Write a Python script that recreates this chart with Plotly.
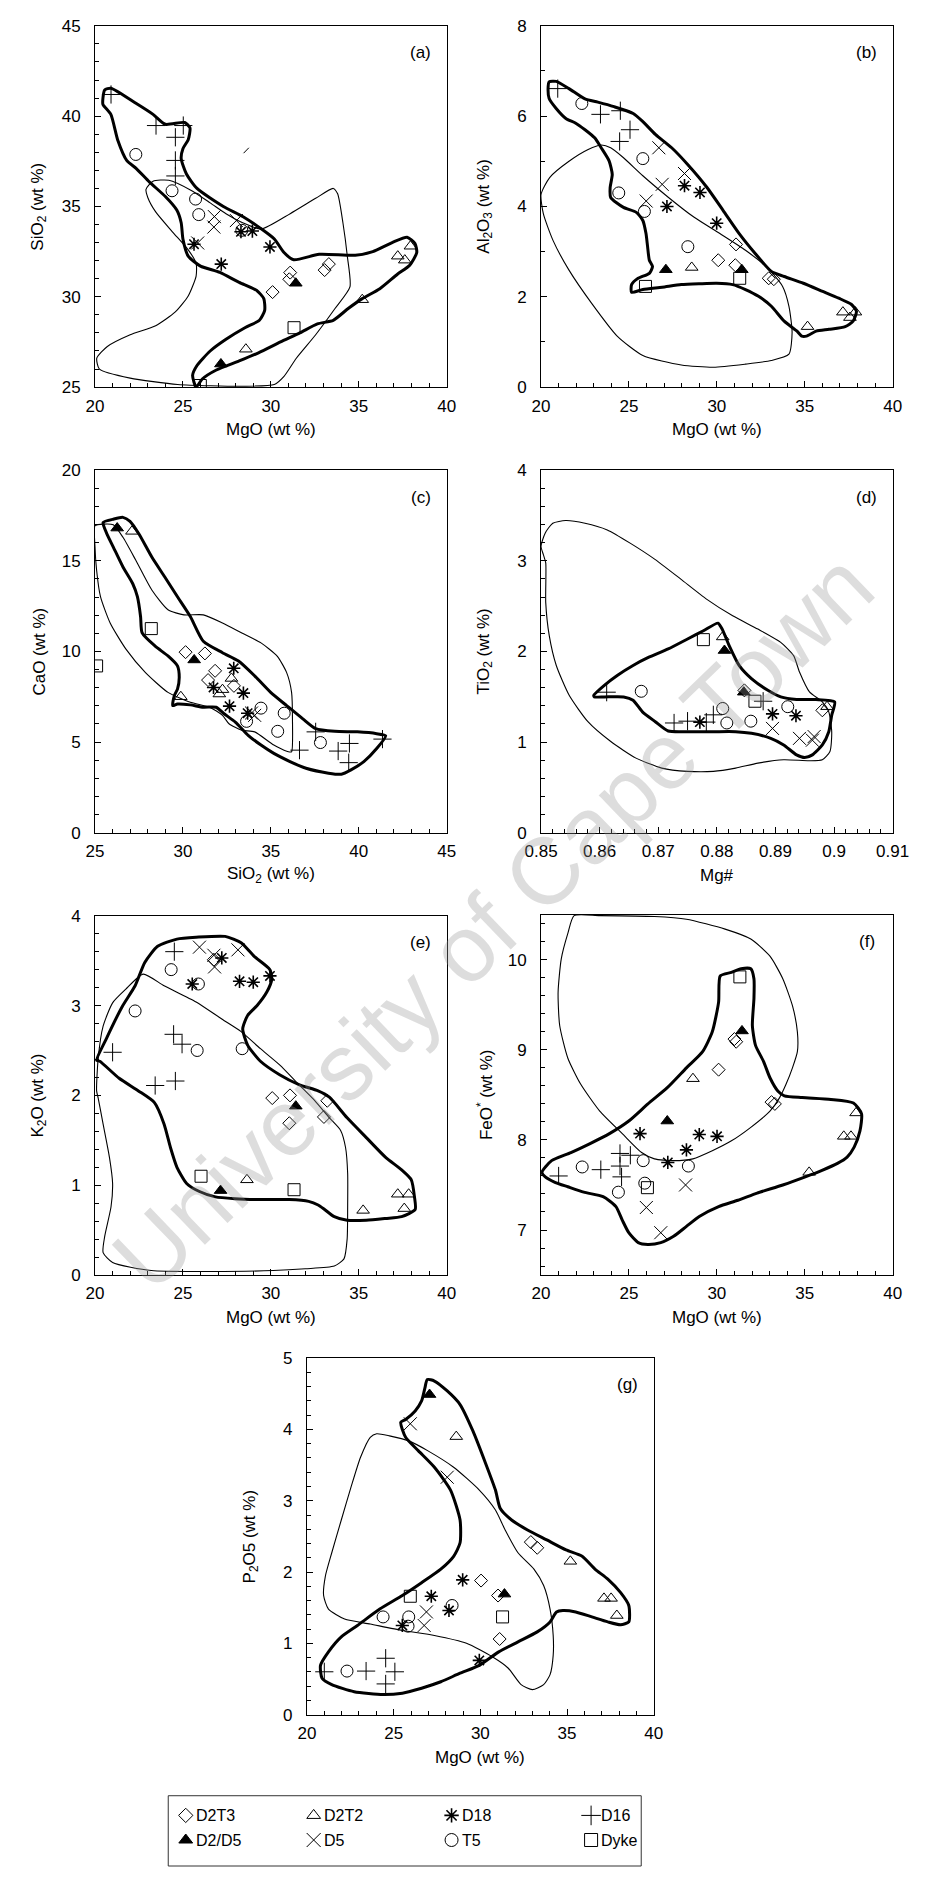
import plotly.graph_objects as go

W, H = 927, 1877
FONT = "Liberation Sans, Arial, Helvetica, sans-serif"

# ---------------- (a) SiO2 vs MgO ----------------
a_d2t3 = [(31.1, 31.34), (31.05, 30.97), (30.1, 30.26), (33.06, 31.48), (33.3, 31.81)]
a_d2t2 = [(28.58, 27.1), (35.2, 29.84), (37.22, 32.25), (37.62, 32.03), (37.94, 32.8)]
a_d18 = [(25.63, 32.91), (27.18, 31.81), (28.95, 33.64), (29.95, 32.76), (28.3, 33.6)]
a_d16 = [(20.91, 41.2), (23.47, 39.48), (25.02, 39.48), (24.57, 38.83), (24.57, 37.55), (24.57, 36.69)]
a_d2d5 = [(31.42, 30.75), (27.16, 26.28)]
a_d5 = [(26.79, 34.44), (26.76, 33.86), (25.84, 32.98), (28.04, 34.22)]
a_t5 = [(22.32, 37.88), (24.38, 35.87), (25.72, 35.41), (25.9, 34.55), (28.35, 33.68)]
a_dyke = [(31.32, 28.29), (25.99, 25.09)]
a_thick = [(20.45, 41.0), (20.55, 41.45), (20.9, 41.55), (22.35, 40.7), (23.3, 40.1), (24.0, 39.55),
           (25.1, 39.65), (25.4, 39.35), (25.3, 38.7), (25.0, 38.2), (24.9, 37.65), (25.2, 36.8),
           (25.8, 36.0), (27.3, 35.0), (28.4, 34.45), (29.4, 33.8), (30.2, 33.2), (30.75, 32.45),
           (31.3, 32.05), (32.75, 32.35), (34.8, 32.3), (35.8, 32.5), (36.9, 33.0), (37.75, 33.3),
           (38.2, 32.95), (38.3, 32.45), (37.9, 31.75), (37.2, 31.25), (36.2, 30.45), (35.2, 29.9),
           (34.4, 29.35), (33.55, 28.7), (32.65, 28.5), (31.65, 28.0), (30.55, 27.5), (29.3, 26.9),
           (28.2, 26.45), (26.9, 25.95), (26.1, 25.45), (25.75, 25.0), (25.55, 25.65), (25.8, 26.2),
           (26.55, 27.0), (27.45, 27.65), (28.55, 28.3), (29.35, 28.7), (29.65, 29.25), (29.6, 29.9),
           (29.2, 30.35), (28.2, 30.8), (27.1, 31.35), (26.0, 31.7), (25.3, 32.25), (25.0, 33.2),
           (24.9, 34.1), (24.65, 34.8), (24.0, 35.55), (23.1, 36.35), (22.35, 37.1), (21.8, 37.55),
           (21.3, 38.65), (20.9, 40.1), (20.45, 40.65)]
a_thin = [(23.3, 36.4), (24.2, 36.45), (25.45, 35.9), (26.55, 35.2), (27.45, 34.6), (28.4, 34.1),
          (29.45, 33.75), (31.1, 34.6), (32.55, 35.45), (33.55, 36.0), (33.8, 35.7), (34.1, 34.1),
          (34.35, 32.25), (34.5, 30.55), (33.65, 29.35), (32.55, 27.9), (31.45, 26.6), (30.75, 25.6),
          (30.2, 25.15), (28.4, 25.05), (24.7, 25.15), (22.0, 25.5), (20.25, 26.0), (20.1, 26.6),
          (20.7, 27.25), (22.0, 27.9), (23.45, 28.4), (24.55, 29.15), (25.3, 30.05), (25.75, 31.15),
          (25.75, 31.85), (25.3, 32.6), (24.4, 33.6), (23.45, 34.7), (23.0, 35.5), (22.9, 35.95)]
a_stroke = [(28.45, 37.95), (28.75, 38.25)]

# ---------------- (b) Al2O3 vs MgO ----------------
b_d2t3 = [(31.09, 3.16), (30.08, 2.81), (31.05, 2.70), (32.95, 2.41), (33.24, 2.39)]
b_d2t2 = [(28.57, 2.65), (35.16, 1.34), (37.17, 1.66), (37.57, 1.54), (37.88, 1.66)]
b_d18 = [(28.16, 4.46), (29.04, 4.31), (27.16, 4.0), (29.99, 3.63)]
b_d16 = [(20.95, 6.61), (23.38, 6.04), (24.51, 6.12), (24.47, 5.44), (25.06, 5.70)]
b_d2d5 = [(27.1, 2.6), (31.42, 2.6)]
b_d5 = [(26.7, 5.3), (26.89, 4.49), (25.98, 4.12), (28.16, 4.73)]
b_t5 = [(22.32, 6.28), (25.79, 5.06), (24.42, 4.30), (25.88, 3.89), (28.35, 3.11)]
b_dyke = [(25.94, 2.23), (31.3, 2.41)]
b_thick = [(20.46, 6.76), (20.86, 6.77), (21.59, 6.61), (22.5, 6.38), (23.23, 6.31), (24.15, 6.21),
           (25.24, 6.06), (25.79, 5.88), (26.52, 5.59), (27.43, 5.30), (28.34, 4.93), (29.44, 4.42),
           (30.36, 3.91), (31.27, 3.40), (32.18, 2.96), (33.1, 2.56), (33.83, 2.45), (34.92, 2.30),
           (36.02, 2.12), (36.93, 1.97), (37.66, 1.83), (37.94, 1.68), (37.75, 1.46), (37.3, 1.34),
           (36.38, 1.28), (35.65, 1.24), (35.1, 1.13), (34.83, 1.13), (34.56, 1.24), (33.83, 1.46),
           (33.1, 1.79), (32.37, 2.01), (31.63, 2.16), (30.9, 2.27), (29.99, 2.30), (29.08, 2.29),
           (27.98, 2.27), (26.89, 2.21), (25.79, 2.16), (25.15, 2.10), (25.15, 2.27), (25.52, 2.41),
           (26.16, 2.52), (26.34, 2.67), (26.16, 2.81), (26.06, 3.11), (25.97, 3.40), (25.79, 3.69),
           (25.42, 3.87), (24.69, 3.98), (23.96, 4.20), (23.93, 4.42), (24.05, 4.71), (23.87, 5.01),
           (23.42, 5.30), (23.05, 5.52), (22.5, 5.70), (21.95, 5.85), (21.41, 5.95), (20.86, 6.17),
           (20.46, 6.39), (20.4, 6.61)]
b_thin = [(20.0, 4.27), (20.49, 4.64), (21.59, 5.0), (22.68, 5.26), (23.42, 5.36), (23.96, 5.3),
          (24.69, 5.08), (25.79, 4.68), (27.25, 4.20), (28.71, 3.76), (30.17, 3.40), (31.63, 3.03),
          (32.91, 2.63), (33.74, 2.23), (34.1, 1.79), (34.28, 1.21), (34.1, 0.73), (33.1, 0.59),
          (31.63, 0.51), (29.81, 0.44), (27.98, 0.49), (25.79, 0.70), (24.33, 1.13), (22.87, 1.86),
          (21.59, 2.59), (20.68, 3.25), (20.13, 3.84)]

# ---------------- (c) CaO vs SiO2 ----------------
c_d2t3 = [(30.15, 9.96), (31.25, 9.89), (31.83, 8.93), (31.43, 8.42), (32.9, 8.1)]
c_d2t2 = [(27.1, 16.63), (29.88, 7.5), (32.76, 8.51), (32.25, 7.89), (32.07, 7.65)]
c_d18 = [(32.89, 9.07), (31.74, 8.01), (33.44, 7.70), (32.65, 6.98), (33.68, 6.59)]
c_d16 = [(36.63, 4.55), (37.55, 5.56), (38.83, 4.50), (39.47, 4.92), (39.43, 3.86), (41.35, 5.16)]
c_d2d5 = [(26.26, 16.81), (30.64, 9.53)]
c_d5 = [(34.08, 6.47), (33.9, 6.6)]
c_t5 = [(33.62, 6.14), (34.44, 6.87), (35.76, 6.59), (35.39, 5.59), (37.82, 4.97)]
c_dyke = [(28.2, 11.26), (25.09, 9.2)]
c_thick = [(25.46, 17.12), (26.04, 17.3), (26.59, 17.4), (26.99, 17.18), (27.5, 16.48), (28.23, 15.21),
           (28.96, 14.12), (29.69, 13.02), (30.42, 11.93), (31.16, 10.56), (32.25, 9.93), (33.16, 9.47),
           (34.08, 8.65), (34.99, 7.74), (35.9, 7.01), (36.82, 6.28), (37.55, 5.74), (38.64, 5.59),
           (39.92, 5.56), (41.02, 5.46), (41.53, 5.34), (41.02, 4.64), (40.29, 3.92), (39.56, 3.46),
           (39.01, 3.22), (38.28, 3.28), (37.0, 3.55), (36.09, 3.92), (35.17, 4.37), (34.44, 4.83),
           (33.71, 5.37), (32.98, 6.10), (32.34, 6.56), (31.89, 6.92), (31.16, 6.92), (30.42, 7.05),
           (29.69, 7.10), (29.42, 7.01), (29.51, 7.56), (29.69, 7.92), (29.79, 8.56), (29.69, 9.20),
           (29.15, 9.75), (28.42, 10.29), (27.68, 11.02), (27.59, 11.93), (27.41, 13.02), (27.14, 13.75),
           (26.59, 14.66), (26.04, 15.76), (25.68, 16.48), (25.49, 16.94)]
c_thin = [(25.0, 16.94), (25.49, 17.03), (26.04, 16.99), (26.59, 16.3), (27.32, 15.03), (28.23, 13.39),
          (29.15, 12.3), (30.06, 12.02), (31.16, 12.02), (32.25, 11.57), (33.35, 11.02), (34.44, 10.47),
          (35.36, 9.74), (35.9, 8.83), (36.18, 7.74), (36.23, 6.28), (36.18, 4.46), (36.0, 4.46),
          (35.17, 4.83), (34.08, 5.56), (33.35, 5.65), (32.62, 6.01), (32.25, 6.47), (31.52, 6.92),
          (30.42, 7.19), (29.15, 7.74), (27.87, 8.83), (26.77, 10.11), (25.86, 11.57), (25.31, 13.02),
          (25.09, 14.48), (25.0, 15.76)]

# ---------------- (d) TiO2 vs Mg# ----------------
d_d2t3 = [(0.8980, 1.35), (0.8847, 1.57)]
d_d2t2 = [(0.8810, 2.16), (0.8988, 1.39)]
d_d18 = [(0.8771, 1.22), (0.8895, 1.31), (0.8935, 1.29)]
d_d16 = [(0.8612, 1.55), (0.8727, 1.21), (0.8750, 1.23), (0.8782, 1.22), (0.8794, 1.30), (0.8879, 1.45)]
d_d2d5 = [(0.8813, 2.01), (0.8846, 1.55)]
d_d5 = [(0.8895, 1.15), (0.8941, 1.04), (0.8963, 1.02), (0.8966, 1.06)]
d_t5 = [(0.8671, 1.56), (0.8810, 1.37), (0.8817, 1.21), (0.8858, 1.23), (0.8921, 1.39)]
d_dyke = [(0.8777, 2.13), (0.8865, 1.45)]
d_thick = [(0.8590, 1.516), (0.8608, 1.626), (0.8630, 1.735), (0.8657, 1.845), (0.8684, 1.936),
           (0.8717, 2.027), (0.8750, 2.137), (0.8777, 2.228), (0.8802, 2.312), (0.8809, 2.247),
           (0.8821, 2.064), (0.8838, 1.845), (0.8859, 1.699), (0.8887, 1.571), (0.8909, 1.498),
           (0.8936, 1.469), (0.8969, 1.469), (0.9001, 1.443), (0.8996, 1.297), (0.8991, 1.114),
           (0.8980, 0.968), (0.8963, 0.858), (0.8950, 0.829), (0.8936, 0.858), (0.8914, 0.968),
           (0.8892, 1.041), (0.8859, 1.096), (0.8832, 1.114), (0.8794, 1.114), (0.8750, 1.114),
           (0.8717, 1.121), (0.8695, 1.224), (0.8673, 1.333), (0.8657, 1.461), (0.8641, 1.498),
           (0.8608, 1.498), (0.8591, 1.498)]
d_thin = [(0.8500, 3.160), (0.8507, 3.306), (0.8520, 3.416), (0.8542, 3.445), (0.8575, 3.416),
          (0.8613, 3.342), (0.8652, 3.196), (0.8695, 3.014), (0.8739, 2.795), (0.8783, 2.575),
          (0.8827, 2.393), (0.8870, 2.247), (0.8909, 2.100), (0.8931, 1.954), (0.8941, 1.772),
          (0.8958, 1.553), (0.8980, 1.443), (0.8991, 1.333), (0.8996, 1.114), (0.8993, 0.895),
          (0.8980, 0.804), (0.8958, 0.793), (0.8914, 0.804), (0.8870, 0.767), (0.8832, 0.712),
          (0.8794, 0.676), (0.8750, 0.676), (0.8706, 0.712), (0.8662, 0.822), (0.8619, 1.005),
          (0.8580, 1.224), (0.8548, 1.516), (0.8526, 1.845), (0.8514, 2.174), (0.8508, 2.539),
          (0.8508, 2.977), (0.8504, 3.068)]

# ---------------- (e) K2O vs MgO ----------------
e_d2t3 = [(26.76, 3.51), (30.08, 1.97), (31.09, 2.0), (31.05, 1.69), (33.02, 1.76), (33.21, 1.94)]
e_d2t2 = [(28.64, 1.06), (35.25, 0.72), (37.22, 0.90), (37.84, 0.90), (37.59, 0.74)]
e_d18 = [(27.21, 3.53), (28.22, 3.27), (29.0, 3.26), (29.95, 3.33), (25.53, 3.24)]
e_d16 = [(24.51, 3.60), (24.47, 2.68), (24.95, 2.57), (21.0, 2.48), (23.42, 2.11), (24.57, 2.16)]
e_d2d5 = [(31.42, 1.88), (27.14, 0.94)]
e_d5 = [(25.94, 3.65), (26.76, 3.56), (26.8, 3.43), (28.13, 3.62)]
e_t5 = [(24.33, 3.40), (25.88, 3.24), (22.28, 2.94), (25.81, 2.50), (28.37, 2.52)]
e_dyke = [(26.03, 1.10), (31.32, 0.95)]
e_thick = [(20.09, 2.39), (20.64, 2.63), (21.55, 2.99), (22.28, 3.22), (22.83, 3.48), (23.56, 3.66),
           (24.66, 3.74), (25.75, 3.76), (27.4, 3.77), (28.31, 3.70), (29.04, 3.55), (29.95, 3.40),
           (30.05, 3.29), (29.77, 3.15), (29.22, 3.0), (28.68, 2.89), (28.4, 2.74), (28.68, 2.56),
           (29.41, 2.38), (30.5, 2.23), (31.6, 2.12), (32.69, 2.05), (33.33, 1.98), (34.34, 1.75),
           (35.43, 1.53), (36.53, 1.31), (37.44, 1.17), (37.99, 1.06), (38.17, 0.87), (38.21, 0.73),
           (37.44, 0.65), (36.53, 0.63), (35.43, 0.61), (34.34, 0.61), (33.61, 0.65), (33.06, 0.73),
           (32.69, 0.78), (32.15, 0.82), (31.05, 0.84), (29.41, 0.84), (27.95, 0.85), (26.85, 0.87),
           (25.94, 0.93), (25.21, 1.02), (24.66, 1.20), (24.29, 1.42), (23.93, 1.68), (23.38, 1.92),
           (22.47, 2.05), (21.37, 2.19), (20.27, 2.38)]
e_thin = [(20.09, 2.05), (20.18, 2.41), (20.46, 2.77), (21.0, 3.03), (21.74, 3.18), (22.74, 3.35),
          (23.93, 3.22), (25.75, 3.04), (27.21, 2.85), (28.31, 2.71), (29.41, 2.52), (30.5, 2.34),
          (31.6, 2.12), (32.51, 1.94), (33.33, 1.75), (33.97, 1.61), (34.25, 1.42), (34.37, 1.13),
          (34.37, 0.76), (34.34, 0.40), (34.16, 0.18), (33.61, 0.10), (31.96, 0.07), (30.14, 0.05),
          (26.48, 0.04), (23.2, 0.05), (21.0, 0.14), (20.46, 0.25), (20.55, 0.43), (20.91, 0.76),
          (21.0, 1.02), (20.82, 1.31), (20.46, 1.68), (20.18, 1.97)]

# ---------------- (f) FeO* vs MgO ----------------
f_d2t3 = [(30.1, 8.78), (31.1, 9.09), (31.0, 9.12), (33.11, 8.42), (33.3, 8.40)]
f_d2t2 = [(28.64, 8.68), (35.25, 7.64), (37.22, 8.04), (37.63, 8.04), (37.92, 8.30)]
f_d18 = [(25.63, 8.07), (27.21, 7.75), (28.27, 7.89), (29.0, 8.06), (30.01, 8.04)]
f_d16 = [(21.0, 7.60), (23.4, 7.67), (24.49, 7.85), (24.58, 7.59), (25.08, 7.83), (24.49, 7.71)]
f_d2d5 = [(27.18, 8.21), (31.43, 9.21)]
f_d5 = [(25.99, 7.25), (28.22, 7.50), (26.81, 6.97)]
f_t5 = [(22.34, 7.70), (24.4, 7.42), (25.81, 7.77), (28.38, 7.71), (25.9, 7.52)]
f_dyke = [(31.31, 9.81), (26.05, 7.47)]
f_thick = [(20.05, 7.64), (20.6, 7.77), (21.7, 7.86), (22.79, 7.96), (23.89, 8.07), (24.99, 8.21),
           (26.08, 8.40), (27.18, 8.58), (28.27, 8.80), (29.19, 8.98), (29.74, 9.20), (30.1, 9.53),
           (30.19, 9.82), (30.83, 9.86), (31.38, 9.90), (31.93, 9.90), (32.11, 9.79), (32.11, 9.57),
           (32.02, 9.27), (32.2, 9.05), (32.66, 8.87), (33.02, 8.69), (33.48, 8.54), (33.84, 8.49),
           (34.85, 8.47), (36.49, 8.45), (37.77, 8.41), (38.23, 8.29), (38.14, 8.10), (37.81, 7.92),
           (37.41, 7.81), (36.86, 7.74), (35.95, 7.66), (35.03, 7.59), (33.75, 7.50), (32.29, 7.41),
           (31.2, 7.33), (30.1, 7.26), (29.0, 7.15), (28.27, 7.04), (27.54, 6.93), (26.81, 6.86),
           (26.08, 6.84), (25.53, 6.86), (24.99, 6.97), (24.62, 7.11), (24.26, 7.26), (23.53, 7.37),
           (22.43, 7.42), (21.52, 7.48), (20.79, 7.53), (20.24, 7.59)]
f_thin = [(21.88, 10.49), (21.52, 10.29), (21.15, 10.01), (20.97, 9.64), (21.06, 9.27), (21.52, 8.91),
          (22.25, 8.62), (23.34, 8.32), (24.62, 8.07), (25.72, 7.86), (26.45, 7.79), (27.54, 7.77),
          (28.64, 7.79), (29.74, 7.88), (30.83, 7.99), (31.93, 8.14), (33.02, 8.32), (33.57, 8.47),
          (33.94, 8.62), (34.3, 8.80), (34.58, 8.98), (34.58, 9.20), (34.3, 9.49), (33.75, 9.79),
          (33.02, 10.04), (31.93, 10.23), (30.47, 10.34), (28.27, 10.45), (26.45, 10.48), (23.34, 10.49)]

# ---------------- (g) P2O5 vs MgO ----------------
g_d2t3 = [(30.04, 1.88), (31.02, 1.67), (31.11, 1.06), (32.91, 2.42), (33.28, 2.34)]
g_d2t2 = [(28.61, 3.90), (35.19, 2.15), (37.13, 1.63), (37.54, 1.63), (37.87, 1.39)]
g_d18 = [(25.5, 1.25), (27.17, 1.66), (28.98, 1.89), (28.19, 1.46), (29.94, 0.76)]
g_d16 = [(21.0, 0.60), (23.41, 0.61), (24.54, 0.79), (25.07, 0.60), (24.54, 0.43)]
g_d2d5 = [(27.07, 4.49), (31.39, 1.69)]
g_d5 = [(25.96, 4.08), (28.09, 3.33), (26.89, 1.44), (26.76, 1.25)]
g_t5 = [(22.31, 0.61), (24.39, 1.37), (25.87, 1.37), (25.83, 1.24), (28.37, 1.53)]
g_dyke = [(25.96, 1.66), (31.28, 1.37)]
g_thick = [(26.94, 4.70), (27.35, 4.68), (28.09, 4.54), (28.83, 4.35), (29.57, 3.98), (30.31, 3.52),
           (30.87, 3.15), (31.15, 2.89), (31.8, 2.73), (32.72, 2.59), (33.83, 2.45), (34.94, 2.31),
           (35.87, 2.22), (36.61, 2.04), (37.35, 1.90), (38.09, 1.71), (38.56, 1.53), (38.56, 1.30),
           (38.09, 1.26), (37.35, 1.30), (36.43, 1.37), (35.5, 1.44), (34.76, 1.46), (34.39, 1.44),
           (34.02, 1.30), (33.28, 1.16), (32.17, 1.02), (31.06, 0.88), (29.94, 0.69), (28.83, 0.58),
           (27.72, 0.46), (26.61, 0.37), (25.5, 0.30), (24.39, 0.28), (22.72, 0.32), (21.43, 0.42),
           (20.87, 0.51), (20.78, 0.69), (21.24, 0.88), (21.98, 1.09), (22.91, 1.25), (24.2, 1.48),
           (25.5, 1.67), (26.61, 1.85), (27.72, 2.04), (28.46, 2.22), (28.83, 2.41), (28.83, 2.73),
           (28.28, 3.15), (27.35, 3.47), (26.43, 3.70), (25.69, 3.89), (25.41, 4.10), (25.69, 4.14),
           (26.24, 4.26), (26.61, 4.40), (26.8, 4.58)]
g_thin = [(24.02, 3.94), (24.76, 3.91), (25.87, 3.84), (26.98, 3.70), (28.46, 3.47), (29.94, 3.15),
          (30.87, 2.87), (31.43, 2.59), (32.17, 2.27), (33.09, 2.04), (33.65, 1.81), (34.02, 1.48),
          (34.2, 1.11), (34.2, 0.83), (34.02, 0.56), (33.65, 0.42), (33.0, 0.35), (32.35, 0.42),
          (31.61, 0.65), (30.69, 0.81), (29.2, 1.0), (27.35, 1.11), (25.5, 1.18), (23.65, 1.27),
          (22.17, 1.34), (21.24, 1.48), (20.96, 1.67), (21.06, 1.94), (21.43, 2.27), (21.98, 2.73),
          (22.54, 3.19), (23.09, 3.61), (23.65, 3.89)]

MG_NUMBER_TICKS = [0.85, 0.86, 0.87, 0.88, 0.89, 0.90, 0.91]
MG_NUMBER_LABELS = ["0.85", "0.86", "0.87", "0.88", "0.89", "0.9", "0.91"]

GROUP_NAMES = ["D2T3", "D2T2", "D18", "D16", "D2/D5", "D5", "T5", "Dyke"]

# marker style of each sample group
STYLE = {
    "D2T3": dict(symbol="diamond-open", size=10, lw=1),
    "D2T2": dict(symbol="triangle-up-open", size=11, lw=1),
    "D18": dict(symbol="asterisk-open", size=11, lw=1.6),
    "D16": dict(symbol="cross-thin-open", size=13, lw=1),
    "D2/D5": dict(symbol="triangle-up", size=11, lw=1),
    "D5": dict(symbol="x-thin-open", size=13, lw=1),
    "T5": dict(symbol="circle-open", size=12, lw=1),
    "Dyke": dict(symbol="square-open", size=12, lw=1),
}


def px_x(p):
    return p / W


def px_y(p):
    return 1 - p / H


# plot-area boxes in pixels (left, right, top, bottom)
PANELS = [
    dict(tag="(a)", box=(81, 446, 17, 382), xr=[20, 40], yr=[25, 45], xd=5, xm=1, yd=5, ym=1,
         xt="MgO (wt %)", yt="SiO<sub>2</sub> (wt %)",
         groups=[a_d2t3, a_d2t2, a_d18, a_d16, a_d2d5, a_d5, a_t5, a_dyke], thick=a_thick, thin=a_thin),
    dict(tag="(b)", box=(544, 909, 17, 382), xr=[20, 40], yr=[0, 8], xd=5, xm=1, yd=2, ym=1,
         xt="MgO (wt %)", yt="Al<sub>2</sub>O<sub>3</sub> (wt %)",
         groups=[b_d2t3, b_d2t2, b_d18, b_d16, b_d2d5, b_d5, b_t5, b_dyke], thick=b_thick, thin=b_thin),
    dict(tag="(c)", box=(81, 446, 466, 832), xr=[25, 45], yr=[0, 20], xd=5, xm=1, yd=5, ym=1,
         xt="SiO<sub>2</sub> (wt %)", yt="CaO (wt %)",
         groups=[c_d2t3, c_d2t2, c_d18, c_d16, c_d2d5, c_d5, c_t5, c_dyke], thick=c_thick, thin=c_thin),
    dict(tag="(d)", box=(544, 909, 466, 832), xr=[0.85, 0.91], yr=[0, 4], xd=None, xm=0.002, yd=1, ym=0.2,
         xt="Mg#", yt="TiO<sub>2</sub> (wt %)",
         groups=[d_d2t3, d_d2t2, d_d18, d_d16, d_d2d5, d_d5, d_t5, d_dyke], thick=d_thick, thin=d_thin),
    dict(tag="(e)", box=(81, 446, 916, 1279), xr=[20, 40], yr=[0, 4], xd=5, xm=1, yd=1, ym=0.2,
         xt="MgO (wt %)", yt="K<sub>2</sub>O (wt %)",
         groups=[e_d2t3, e_d2t2, e_d18, e_d16, e_d2d5, e_d5, e_t5, e_dyke], thick=e_thick, thin=e_thin),
    dict(tag="(f)", box=(544, 909, 915, 1279), xr=[20, 40], yr=[6.5, 10.5], xd=5, xm=1, yd=1, ym=0.2,
         xt="MgO (wt %)", yt="FeO<sup>*</sup> (wt %)",
         groups=[f_d2t3, f_d2t2, f_d18, f_d16, f_d2d5, f_d5, f_t5, f_dyke], thick=f_thick, thin=f_thin),
    dict(tag="(g)", box=(301, 661, 1363, 1723), xr=[20, 40], yr=[0, 5], xd=5, xm=1, yd=1, ym=0.2,
         xt="MgO (wt %)", yt="P<sub>2</sub>O5 (wt %)",
         groups=[g_d2t3, g_d2t2, g_d18, g_d16, g_d2d5, g_d5, g_t5, g_dyke], thick=g_thick, thin=g_thin),
]

fig = go.Figure()
annotations = []
tick_font = dict(family=FONT, size=17, color="black")
label_font = dict(family=FONT, size=17, color="black")


def closed(pts):
    xs = [p[0] for p in pts] + [pts[0][0]]
    ys = [p[1] for p in pts] + [pts[0][1]]
    return xs, ys


def paper_text(text, x, y, **kw):
    d = dict(text=text, x=px_x(x), y=px_y(y), xref="paper", yref="paper",
             xanchor="center", yanchor="middle", showarrow=False, font=label_font)
    d.update(kw)
    return d


for i, pnl in enumerate(PANELS, start=1):
    xa = "x" if i == 1 else f"x{i}"
    ya = "y" if i == 1 else f"y{i}"
    left, right, top, bottom = pnl["box"]

    xaxis = dict(domain=[px_x(left), px_x(right)], range=pnl["xr"], anchor=ya,
                 showline=True, linecolor="black", linewidth=1, mirror=True,
                 ticks="inside", ticklen=6, tickwidth=1, tickcolor="black",
                 showgrid=False, zeroline=False, tickfont=tick_font, ticklabelstandoff=3,
                 minor=dict(ticks="inside", ticklen=4, tickwidth=1, tickcolor="black",
                            dtick=pnl["xm"], showgrid=False))
    if pnl["xd"] is None:
        xaxis.update(tickvals=MG_NUMBER_TICKS, ticktext=MG_NUMBER_LABELS)
        xaxis["minor"].update(tick0=0.85)
    else:
        xaxis.update(dtick=pnl["xd"], tick0=0)
    yaxis = dict(domain=[px_y(bottom), px_y(top)], range=pnl["yr"], anchor=xa,
                 showline=True, linecolor="black", linewidth=1, mirror=True,
                 ticks="inside", ticklen=6, tickwidth=1, tickcolor="black",
                 showgrid=False, zeroline=False, tickfont=tick_font, ticklabelstandoff=10,
                 dtick=pnl["yd"], tick0=0,
                 minor=dict(ticks="inside", ticklen=4, tickwidth=1, tickcolor="black",
                            dtick=pnl["ym"], tick0=0, showgrid=False))
    fig.update_layout(**{("xaxis" if i == 1 else f"xaxis{i}"): xaxis,
                         ("yaxis" if i == 1 else f"yaxis{i}"): yaxis})

    # field outlines
    for pts, width in ((pnl["thin"], 1.1), (pnl["thick"], 3)):
        xs, ys = closed(pts)
        fig.add_trace(go.Scatter(x=xs, y=ys, mode="lines", xaxis=xa, yaxis=ya,
                                 line=dict(color="black", width=width, shape="spline", smoothing=0.6),
                                 hoverinfo="skip", showlegend=False))

    # samples
    for name, pts in zip(GROUP_NAMES, pnl["groups"]):
        st = STYLE[name]
        fig.add_trace(go.Scatter(x=[p[0] for p in pts], y=[p[1] for p in pts], mode="markers",
                                 xaxis=xa, yaxis=ya, name=name, showlegend=False,
                                 marker=dict(symbol=st["symbol"], size=st["size"], color="black",
                                             line=dict(color="black", width=st["lw"]))))

    # panel tag and axis titles
    annotations.append(paper_text(pnl["tag"], right - 27, top + 27))
    annotations.append(paper_text(pnl["xt"], (left + right) / 2, bottom + 43))
    annotations.append(paper_text(pnl["yt"], left - 58, (top + bottom) / 2, textangle=-90))

# short pen stroke inside panel (a)
fig.add_trace(go.Scatter(x=[p[0] for p in a_stroke], y=[p[1] for p in a_stroke], mode="lines",
                         xaxis="x", yaxis="y", line=dict(color="black", width=1),
                         hoverinfo="skip", showlegend=False))

# ---- legend block drawn on a hidden axis pair ----
LEG = (157, 648, 1805, 1876)
fig.update_layout(
    xaxis8=dict(domain=[px_x(LEG[0]), px_x(LEG[1])], range=[0, 1], visible=False, anchor="y8"),
    yaxis8=dict(domain=[px_y(LEG[3]), px_y(LEG[2])], range=[0, 1], visible=False, anchor="x8"),
)
col_x = [0.037, 0.3075, 0.599, 0.894]
row_y = [0.72, 0.37]
for k, name in enumerate(GROUP_NAMES):
    r, c = divmod(k, 4)
    st = STYLE[name]
    fig.add_trace(go.Scatter(x=[col_x[c]], y=[row_y[r]], mode="markers", xaxis="x8", yaxis="y8",
                             showlegend=False, hoverinfo="skip",
                             marker=dict(symbol=st["symbol"], size=st["size"] + 1, color="black",
                                         line=dict(color="black", width=st["lw"]))))
    annotations.append(dict(text=name, x=col_x[c], y=row_y[r], xref="x8", yref="y8",
                            xanchor="left", yanchor="middle", xshift=8, showarrow=False,
                            font=dict(family=FONT, size=16, color="black")))

shapes = [dict(type="rect", xref="paper", yref="paper",
               x0=px_x(LEG[0]), x1=px_x(LEG[1]), y0=px_y(LEG[3]), y1=px_y(LEG[2]),
               line=dict(color="#333333", width=1))]

# watermark
annotations.append(paper_text("University of Cape Town", 494, 922, textangle=-44,
                              font=dict(family=FONT, size=94, color="rgba(150,150,150,0.32)")))

fig.update_layout(width=W, height=H, margin=dict(l=0, r=0, t=0, b=0),
                  paper_bgcolor="white", plot_bgcolor="white",
                  annotations=annotations, shapes=shapes, showlegend=False)

fig.write_html("out.html")
